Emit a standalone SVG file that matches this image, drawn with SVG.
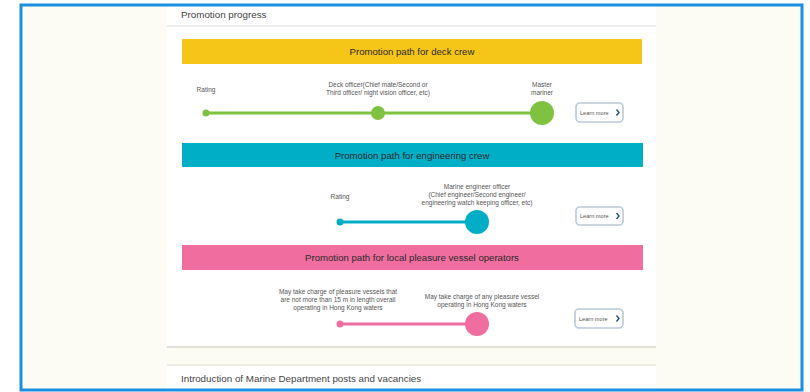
<svg xmlns="http://www.w3.org/2000/svg" width="810" height="392" viewBox="0 0 810 392">
<style>
text{font-family:"Liberation Sans","DejaVu Sans",sans-serif;}
.hd{font-size:9.8px;fill:#444;}
.bt{font-size:9.6px;fill:#2a2a2a;text-anchor:middle;}
.lb{font-size:6.5px;fill:#555;text-anchor:middle;}
.btn{fill:#fff;stroke:#b9cad9;stroke-width:1.6;}
.bl{font-size:5.6px;fill:#555;}
.ch{fill:none;stroke:#1d4f86;stroke-width:1.4;}
.g{stroke:#7fc241;stroke-width:3;fill:none;}
.t{stroke:#00adc6;stroke-width:3;fill:none;}
.p{stroke:#f06d9f;stroke-width:3;fill:none;}
</style>
<rect x="0" y="0" width="810" height="392" fill="#ffffff"/>
<rect x="21" y="5" width="781" height="385" fill="#fdfcf4"/>
<rect x="167" y="5" width="489" height="342" fill="#ffffff"/>
<rect x="167" y="365" width="489" height="25" fill="#ffffff"/>
<line x1="167" y1="26" x2="656" y2="26" stroke="#dcdcdc" stroke-width="1"/>
<line x1="167" y1="347" x2="656" y2="347" stroke="#d6d6cb" stroke-width="1.5"/>
<line x1="167" y1="365" x2="656" y2="365" stroke="#e6e6dd" stroke-width="1.5"/>
<text class="hd" x="181" y="18">Promotion progress</text>
<text class="hd" x="181" y="382">Introduction of Marine Department posts and vacancies</text>

<g id="connectors">
<line class="g" x1="206" y1="113" x2="542" y2="113"/>
<line class="t" x1="340" y1="222" x2="477" y2="222"/>
<line class="p" x1="340" y1="324" x2="477" y2="324"/>
</g>

<g id="deck-header">
<rect x="182" y="39" width="460" height="25" fill="#f5c518"/>
<text class="bt" x="412" y="54.5">Promotion path for deck crew</text>
</g>
<g id="deck-rating">
<circle cx="206" cy="113" r="3.5" fill="#7fc241"/>
<text class="lb" x="206" y="92">Rating</text>
</g>
<g id="deck-officer">
<circle cx="378" cy="113" r="7" fill="#7fc241"/>
<text class="lb" x="378" y="87">Deck officer(Chief mate/Second or</text>
<text class="lb" x="378" y="95">Third officer/ night vision officer, etc)</text>
</g>
<g id="deck-master">
<circle cx="542" cy="113" r="12" fill="#7fc241"/>
<text class="lb" x="542" y="87">Master</text>
<text class="lb" x="542" y="95">mariner</text>
</g>
<g id="deck-learn">
<rect class="btn" x="576" y="103" width="47" height="19" rx="4"/>
<text class="bl" x="580" y="114.5">Learn more</text>
<path class="ch" d="M616.5 109.5 L619 112.5 L616.5 115.5"/>
</g>

<g id="eng-header">
<rect x="182" y="143" width="461" height="24" fill="#00afc6"/>
<text class="bt" x="412" y="158.5">Promotion path for engineering crew</text>
</g>
<g id="eng-rating">
<circle cx="340" cy="222" r="3.5" fill="#00adc6"/>
<text class="lb" x="340" y="199">Rating</text>
</g>
<g id="eng-officer">
<circle cx="477" cy="222" r="12" fill="#00adc6"/>
<text class="lb" x="477" y="189">Marine engineer officer</text>
<text class="lb" x="477" y="197">(Chief engineer/Second engineer/</text>
<text class="lb" x="477" y="205">engineering watch keeping officer, etc)</text>
</g>
<g id="eng-learn">
<rect class="btn" x="576" y="207" width="47" height="18" rx="4"/>
<text class="bl" x="580" y="218">Learn more</text>
<path class="ch" d="M616.5 213 L619 216 L616.5 219"/>
</g>

<g id="pleasure-header">
<rect x="182" y="245" width="461" height="25" fill="#f06d9f"/>
<text class="bt" x="412" y="260.5">Promotion path for local pleasure vessel operators</text>
</g>
<g id="pleasure-15m">
<circle cx="340" cy="324" r="3.5" fill="#f06d9f"/>
<text class="lb" x="338" y="294">May take charge of pleasure vessels that</text>
<text class="lb" x="338" y="302">are not more than 15 m in length overall</text>
<text class="lb" x="338" y="310">operating in Hong Kong waters</text>
</g>
<g id="pleasure-any">
<circle cx="477" cy="324" r="12" fill="#f06d9f"/>
<text class="lb" x="482" y="299">May take charge of any pleasure vessel</text>
<text class="lb" x="482" y="307">operating in Hong Kong waters</text>
</g>
<g id="pleasure-learn">
<rect class="btn" x="575" y="309" width="48" height="19" rx="4"/>
<text class="bl" x="579" y="320.5">Learn more</text>
<path class="ch" d="M616.5 315.5 L619 318.5 L616.5 321.5"/>
</g>

<rect x="21" y="5" width="781" height="385" fill="none" stroke="#1b8fe2" stroke-width="3"/>
</svg>
